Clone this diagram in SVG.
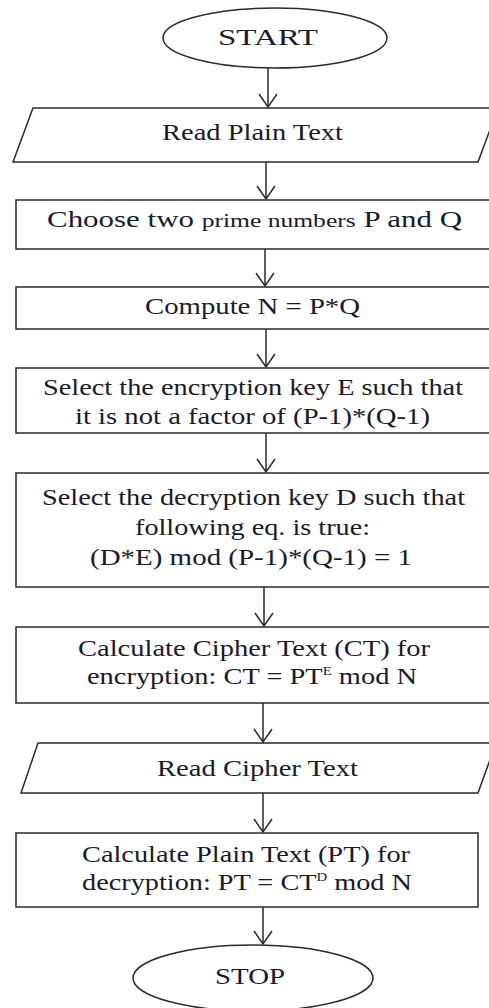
<svg xmlns="http://www.w3.org/2000/svg" width="489" height="1008" viewBox="0 0 489 1008">
<style>
.shape{fill:#fff;stroke:#2a2a2a;stroke-width:1.5}
.conn{stroke:#2a2a2a;stroke-width:1.5;fill:none}
text{font-family:"Liberation Serif","Times New Roman",serif;font-size:23px;fill:#1a1a2a}
.sm{font-size:19px}
.sup{font-size:12px}
</style>
<defs>
<marker id="arr" markerUnits="userSpaceOnUse" viewBox="-1 -11 16 22" markerWidth="16" markerHeight="22" refX="13" refY="0" orient="auto">
<path d="M0,-9 L13,0 L0,9" fill="none" stroke="#2a2a2a" stroke-width="1.5"/>
</marker>
</defs>
<rect width="489" height="1008" fill="#fff"/>
<g id="connectors">
<line class="conn" x1="268" y1="68" x2="268" y2="107" marker-end="url(#arr)"/>
<line class="conn" x1="266" y1="162" x2="266" y2="199" marker-end="url(#arr)"/>
<line class="conn" x1="265" y1="249" x2="265" y2="286" marker-end="url(#arr)"/>
<line class="conn" x1="266" y1="329" x2="266" y2="367" marker-end="url(#arr)"/>
<line class="conn" x1="266" y1="433" x2="266" y2="472" marker-end="url(#arr)"/>
<line class="conn" x1="264" y1="587" x2="264" y2="626" marker-end="url(#arr)"/>
<line class="conn" x1="263" y1="703" x2="263" y2="742" marker-end="url(#arr)"/>
<line class="conn" x1="263" y1="793" x2="263" y2="832" marker-end="url(#arr)"/>
<line class="conn" x1="263" y1="907" x2="263" y2="944" marker-end="url(#arr)"/>
</g>
<g id="start">
<ellipse class="shape" cx="275" cy="38" rx="112" ry="30"/>
<text x="218" y="45" textLength="100" lengthAdjust="spacingAndGlyphs">START</text>
</g>
<g id="read-plain">
<polygon class="shape" points="33,108 498,108 478,162 13,162"/>
<text x="162" y="140" textLength="181" lengthAdjust="spacingAndGlyphs">Read Plain Text</text>
</g>
<g id="choose-primes">
<rect class="shape" x="16" y="200" width="476" height="49"/>
<text x="47" y="227" textLength="415" lengthAdjust="spacingAndGlyphs">Choose two <tspan class="sm">prime numbers</tspan> P and Q</text>
</g>
<g id="compute-n">
<rect class="shape" x="16" y="287" width="476" height="42"/>
<text x="145" y="314" textLength="215" lengthAdjust="spacingAndGlyphs">Compute N = P*Q</text>
</g>
<g id="select-e">
<rect class="shape" x="16" y="368" width="476" height="65"/>
<text x="43" y="395" textLength="420" lengthAdjust="spacingAndGlyphs">Select the encryption key E such that</text>
<text x="75" y="424" textLength="355" lengthAdjust="spacingAndGlyphs">it is not a factor of (P-1)*(Q-1)</text>
</g>
<g id="select-d">
<rect class="shape" x="16" y="473" width="476" height="114"/>
<text x="42" y="505" textLength="423" lengthAdjust="spacingAndGlyphs">Select the decryption key D such that</text>
<text x="135" y="535" textLength="235" lengthAdjust="spacingAndGlyphs">following eq. is true:</text>
<text x="90" y="565" textLength="322" lengthAdjust="spacingAndGlyphs">(D*E) mod (P-1)*(Q-1) = 1</text>
</g>
<g id="encrypt">
<rect class="shape" x="16" y="627" width="476" height="76"/>
<text x="78" y="656" textLength="352" lengthAdjust="spacingAndGlyphs">Calculate Cipher Text (CT) for</text>
<text x="87" y="684" textLength="330" lengthAdjust="spacingAndGlyphs">encryption: CT = PT<tspan class="sup" dy="-9">E</tspan><tspan dy="9"> mod N</tspan></text>
</g>
<g id="read-cipher">
<polygon class="shape" points="38,743 496,743 478,793 21,793"/>
<text x="157" y="776" textLength="201" lengthAdjust="spacingAndGlyphs">Read Cipher Text</text>
</g>
<g id="decrypt">
<rect class="shape" x="16" y="833" width="462" height="74"/>
<text x="82" y="862" textLength="328" lengthAdjust="spacingAndGlyphs">Calculate Plain Text (PT) for</text>
<text x="82" y="890" textLength="330" lengthAdjust="spacingAndGlyphs">decryption: PT = CT<tspan class="sup" dy="-9">D</tspan><tspan dy="9"> mod N</tspan></text>
</g>
<g id="stop">
<ellipse class="shape" cx="253" cy="978" rx="120" ry="33"/>
<text x="215" y="984" textLength="70" lengthAdjust="spacingAndGlyphs">STOP</text>
</g>
</svg>
